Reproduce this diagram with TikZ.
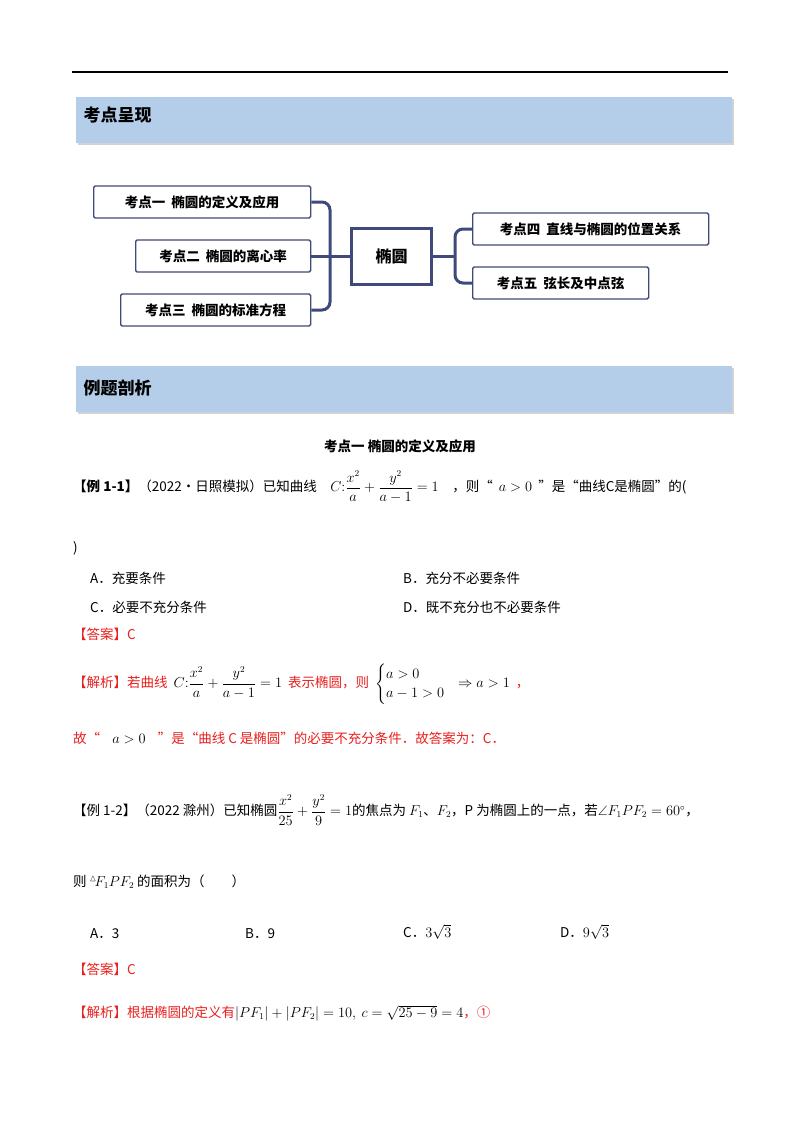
\documentclass[tikz,border=0pt]{standalone}
\usepackage{amsmath,amssymb}
\usepackage{fontspec}
\setmainfont{Noto Sans CJK SC}
\usetikzlibrary{shadows}
\definecolor{navy}{HTML}{3F4A7A}
\definecolor{banner}{HTML}{B4CDE9}
\definecolor{ans}{HTML}{E8201E}
\newcommand{\bm}[1]{\textcolor{black}{#1}}
\tikzset{
  mapbox/.style={draw=navy,line width=1.3pt,fill=white,rounded corners=1.5pt,minimum height=32pt,anchor=west,inner xsep=16pt,font=\fontsize{13.5}{15}\selectfont\bfseries},
  bannerbox/.style={fill=banner,drop shadow={opacity=0.35,shadow xshift=2pt,shadow yshift=-2pt}},
  btitle/.style={anchor=west,font=\fontsize{17}{19}\selectfont\bfseries},
  txt/.style={anchor=west,inner sep=0pt,font=\fontsize{13.5}{16}\selectfont},
  red/.style={txt,text=ans},
  conn/.style={draw=navy,line width=3pt,rounded corners=8pt}
}
\begin{document}
\begin{tikzpicture}[x=1pt,y=-1pt]
\useasboundingbox (0,0) rectangle (800,1132);
\fill[white] (0,0) rectangle (800,1132);
\draw[line width=1.3pt] (72,72) -- (728,72);
\node[bannerbox,minimum width=656pt,minimum height=46pt,anchor=north west,inner sep=0pt] (b1) at (76,97) {};
\node[btitle] (b1t) at (80,115) {考点呈现};
\node[mapbox,minimum width=217pt] (k1) at (93,202) {考点一\ \ 椭圆的定义及应用};
\node[mapbox,minimum width=175pt] (k2) at (135,256) {考点二\ \ 椭圆的离心率};
\node[mapbox,minimum width=190pt] (k3) at (120,310) {考点三\ \ 椭圆的标准方程};
\node[draw=navy,line width=3pt,minimum width=80pt,minimum height=56pt,font=\fontsize{16}{18}\selectfont\bfseries] (c) at (391.5,256) {椭圆};
\node[mapbox,minimum width=236pt] (k4) at (472,229) {考点四\ \ 直线与椭圆的位置关系};
\node[mapbox,minimum width=176pt] (k5) at (472,283) {考点五\ \ 弦长及中点弦};
\coordinate (lj) at (330,256);
\coordinate (rj) at (455,256);
\draw[conn] (k1.east) -- (lj|-k1.east) -- (lj|-k3.east) -- (k3.east);
\draw[conn] (k2.east) -- (c.west);
\draw[conn] (k4.west) -- (rj|-k4.west) -- (rj|-k5.west) -- (k5.west);
\draw[conn] (c.east) -- (rj);
\node[bannerbox,minimum width=656pt,minimum height=46pt,anchor=north west,inner sep=0pt] (b2) at (76,366) {};
\node[btitle] (b2t) at (80,388) {例题剖析};
\node[txt,anchor=center,font=\fontsize{13.5}{16}\selectfont\bfseries] (sub) at (400,446) {考点一\ 椭圆的定义及应用};
% example 1-1
\node[txt] (e1) at (73,487) {\textbf{【例 1-1】}（2022·日照模拟）已知曲线\quad $C{:}\dfrac{x^2}{a}+\dfrac{y^2}{a-1}=1$\quad ，则“\ \ $a>0$\ \ ”是“曲线C是椭圆”的(};
\node[txt] (e1p) at (73,548) {)};
\node[txt] (oA) at (90,578) {A．充要条件};
\node[txt] (oB) at (403,578) {B．充分不必要条件};
\node[txt] (oC) at (90,607) {C．必要不充分条件};
\node[txt] (oD) at (403,607) {D．既不充分也不必要条件};
\node[red] (a1) at (73,634) {【答案】C};
\node[red] (j1) at (73,684) {【解析】若曲线\ \ \bm{$C{:}\dfrac{x^2}{a}+\dfrac{y^2}{a-1}=1$}\ \ 表示椭圆，则\ \ \bm{$\begin{cases}a>0\\ a-1>0\end{cases}\!\!\Rightarrow a>1$}\ \ ，};
\node[red] (g1) at (73,738) {故“\ \ \ \ \bm{$a>0$}\ \ \ \ ”是“曲线 C 是椭圆”的必要不充分条件．故答案为：C．};
% example 1-2
\node[txt] (e2) at (73,810) {【例 1-2】（2022 滁州）已知椭圆$\dfrac{x^2}{25}+\dfrac{y^2}{9}=1$的焦点为 $F_1$、$F_2$，P 为椭圆上的一点，若$\angle F_1PF_2=60^\circ$，};
\node[txt] (e2b) at (73,882) {则 $^{\vartriangle}\!F_1PF_2$ 的面积为（\qquad）};
\node[txt] (pA) at (90,934) {A．3};
\node[txt] (pB) at (245,934) {B．9};
\node[txt] (pC) at (403,932) {C．$3\sqrt3$};
\node[txt] (pD) at (560,932) {D．$9\sqrt3$};
\node[red] (a2) at (73,969) {【答案】C};
\node[red] (j2) at (73,1013) {【解析】根据椭圆的定义有\bm{$|PF_1|+|PF_2|=10,\ c=\sqrt{25-9}=4$}，①};
\end{tikzpicture}
\end{document}
